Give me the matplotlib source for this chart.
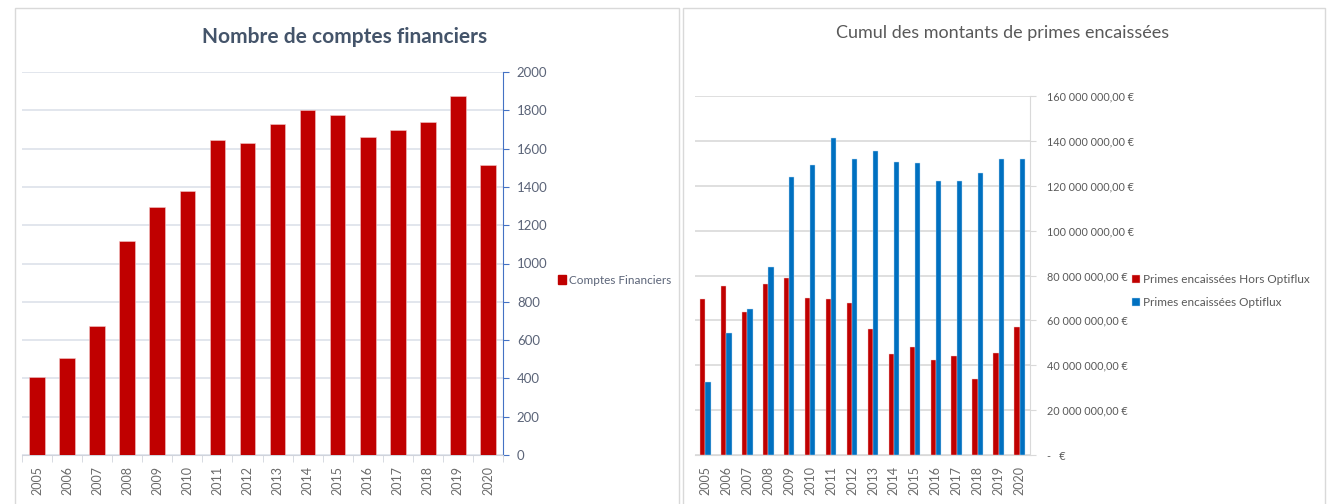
"""Two Excel-style bar charts: nombre de comptes financiers, cumul des primes encaissées."""

import matplotlib

matplotlib.use("Agg")
import matplotlib.pyplot as plt
from matplotlib.patches import Rectangle
from matplotlib.ticker import FuncFormatter, MultipleLocator

plt.rcParams["font.family"] = ["Lato", "DejaVu Sans"]

YEARS = [str(y) for y in range(2005, 2021)]
COMPTES = [406, 505, 672, 1118, 1296, 1380, 1645, 1631,
           1728, 1801, 1774, 1659, 1695, 1737, 1873, 1512]
HORS_OPTIFLUX = [69.5, 75.4, 63.6, 76.1, 79.1, 69.8, 69.5, 67.9,
                 56.0, 44.9, 48.0, 42.4, 44.1, 33.8, 45.5, 57.0]  # millions EUR
OPTIFLUX = [32.7, 54.2, 64.9, 83.7, 124.0, 129.3, 141.3, 132.0,
            135.6, 130.7, 130.1, 122.2, 121.9, 125.8, 131.7, 131.7]  # millions EUR

RED = "#C00000"
BLUE = "#0070C0"
W, H = 1328, 504


def px_axes(fig, x0, y0, x1, y1):
    return fig.add_axes([x0 / W, 1 - y1 / H, (x1 - x0) / W, (y1 - y0) / H])


def euro(v, _pos):
    if v == 0:
        return "-   €"
    s = f"{v * 1e6:,.2f}".replace(",", " ").replace(".", ",")
    return s + " €"


fig = plt.figure(figsize=(W / 100, H / 100), dpi=100)

# panel frames
for x0, x1 in [(15, 679), (683, 1325)]:
    fig.patches.append(Rectangle((x0 / W, -0.01), (x1 - x0) / W, 1 - 8 / H + 0.01,
                                 transform=fig.transFigure, fill=False,
                                 edgecolor="#D9D9D9", lw=1))

# ---- left chart
x = list(range(len(YEARS)))
ax = px_axes(fig, 22, 72, 503, 455)
ax.bar(x, COMPTES, width=0.52, color=RED, edgecolor="#F4C7C7", lw=0.4, zorder=3)
ax.set_xlim(-0.5, len(YEARS) - 0.5)
ax.set_ylim(0, 2000)
ax.yaxis.set_major_locator(MultipleLocator(200))
ax.yaxis.tick_right()
ax.grid(True, axis="y", color="#DDE1EA", lw=1.2)
ax.set_axisbelow(True)
for s in ["top", "left"]:
    ax.spines[s].set_visible(False)
ax.spines["right"].set_color("#4472C4")
ax.spines["bottom"].set_color("#D0D4DC")
ax.tick_params(axis="y", colors="#4472C4", labelcolor="#5B6478", labelsize=9.5,
               length=4, direction="out", pad=6)
ax.set_xticks(x, YEARS, rotation=90, fontsize=9, color="#6B6B6B")
ax.tick_params(axis="x", length=0, pad=8)
ax.set_xticks([i - 0.5 for i in range(len(YEARS) + 1)], minor=True)
ax.tick_params(axis="x", which="minor", length=5, color="#D0D4DC")
fig.text(345 / W, 1 - 37 / H, "Nombre de comptes financiers", ha="center",
         va="center", fontsize=15, fontweight="bold", color="#44546A")
fig.legend(handles=[Rectangle((0, 0), 1, 1, color=RED)], labels=["Comptes Financiers"],
           loc="center left", bbox_to_anchor=(547 / W, 1 - 280 / H), frameon=False,
           fontsize=8.5, handlelength=0.7, handleheight=0.7, handletextpad=0.3,
           labelcolor="#5B6478")

# ---- right chart
ax2 = px_axes(fig, 695, 96, 1030, 455)
bw = 0.25
ax2.bar([i - bw / 2 for i in x], HORS_OPTIFLUX, width=bw, color=RED,
        edgecolor="#F4C7C7", lw=0.3, zorder=3, label="Primes encaissées Hors Optiflux")
ax2.bar([i + bw / 2 for i in x], OPTIFLUX, width=bw, color=BLUE,
        edgecolor="#BFDDF2", lw=0.3, zorder=3, label="Primes encaissées Optiflux")
ax2.set_xlim(-0.5, len(YEARS) - 0.5)
ax2.set_ylim(0, 160)
ax2.yaxis.set_major_locator(MultipleLocator(20))
ax2.yaxis.set_major_formatter(FuncFormatter(euro))
ax2.yaxis.tick_right()
ax2.grid(True, axis="y", color="#D9D9D9", lw=1.2)
ax2.set_axisbelow(True)
for s in ["top", "left"]:
    ax2.spines[s].set_visible(False)
ax2.spines["right"].set_color("#D9D9D9")
ax2.spines["bottom"].set_color("#D9D9D9")
ax2.tick_params(axis="y", colors="#D9D9D9", labelcolor="#595959", labelsize=7.8,
                length=4, pad=8)
ax2.set_xticks(x, YEARS, rotation=90, fontsize=9, color="#6B6B6B")
ax2.tick_params(axis="x", length=0, pad=8)
fig.text(1003 / W, 1 - 33 / H, "Cumul des montants de primes encaissées",
         ha="center", va="center", fontsize=13, color="#595959")
fig.legend(handles=ax2.get_legend_handles_labels()[0],
           labels=ax2.get_legend_handles_labels()[1],
           loc="center left", bbox_to_anchor=(1121 / W, 1 - 291 / H), frameon=False,
           fontsize=8.5, handlelength=0.7, handleheight=0.7, handletextpad=0.3,
           labelspacing=1.0, labelcolor="#595959")

fig.savefig("out.png", dpi=100)
